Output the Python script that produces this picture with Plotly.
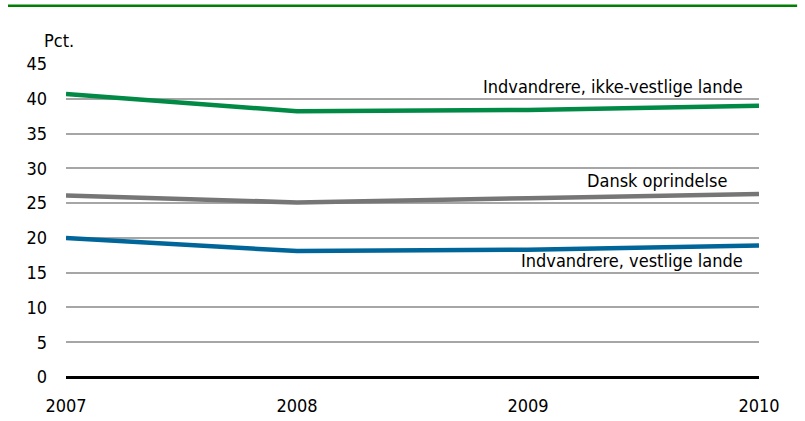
import plotly.graph_objects as go

years = [2007, 2008, 2009, 2010]
ikke_vestlige = [40.7, 38.2, 38.4, 39.0]
dansk = [26.1, 25.1, 25.7, 26.3]
vestlige = [20.0, 18.1, 18.3, 18.9]
y_ticks = [0, 5, 10, 15, 20, 25, 30, 35, 40, 45]

FONT = "DejaVu Sans Condensed, Liberation Sans Narrow, sans-serif"
FS = 18

fig = go.Figure()
fig.add_trace(go.Scatter(x=years, y=ikke_vestlige, mode="lines",
                         line=dict(color="#008a45", width=4.5), name="Indvandrere, ikke-vestlige lande"))
fig.add_trace(go.Scatter(x=years, y=dansk, mode="lines",
                         line=dict(color="#767676", width=4.5), name="Dansk oprindelse"))
fig.add_trace(go.Scatter(x=years, y=vestlige, mode="lines",
                         line=dict(color="#006699", width=4.5), name="Indvandrere, vestlige lande"))

fig.update_layout(
    width=805, height=421,
    margin=dict(l=66, r=46, t=64, b=44),
    paper_bgcolor="white", plot_bgcolor="white",
    showlegend=False,
    font=dict(family=FONT, size=FS, color="black"),
    xaxis=dict(range=[2007, 2010], tickvals=years, ticktext=[str(y) for y in years],
               showgrid=False, zeroline=False, showline=False, ticks="", ticklabelstandoff=16,
               automargin=False),
    yaxis=dict(range=[0, 45], tickvals=y_ticks, showgrid=True, gridcolor="#a6a6a6", gridwidth=2,
               zeroline=True, zerolinecolor="black", zerolinewidth=3, showline=False, ticks="",
               ticklabelstandoff=18, automargin=False),
    shapes=[dict(type="line", xref="paper", yref="paper", x0=-0.0837, x1=1.055, y0=1.186, y1=1.186,
                 line=dict(color="#008000", width=2.5))],
    annotations=[
        dict(text="Pct.", xref="paper", yref="paper", x=-0.035, y=1.035, xanchor="left", yanchor="bottom",
             showarrow=False, font=dict(size=FS)),
        dict(text="Indvandrere, ikke-vestlige lande", xref="x", yref="y", x=2009.94, y=41.8,
             xanchor="right", yanchor="middle", showarrow=False, font=dict(size=FS)),
        dict(text="Dansk oprindelse", xref="x", yref="y", x=2009.87, y=28.3,
             xanchor="right", yanchor="middle", showarrow=False, font=dict(size=FS)),
        dict(text="Indvandrere, vestlige lande", xref="x", yref="y", x=2009.94, y=16.8,
             xanchor="right", yanchor="middle", showarrow=False, font=dict(size=FS)),
    ],
)

fig.write_html("out.html", config={"displayModeBar": False},
               post_script="document.body.style.margin='0';")
